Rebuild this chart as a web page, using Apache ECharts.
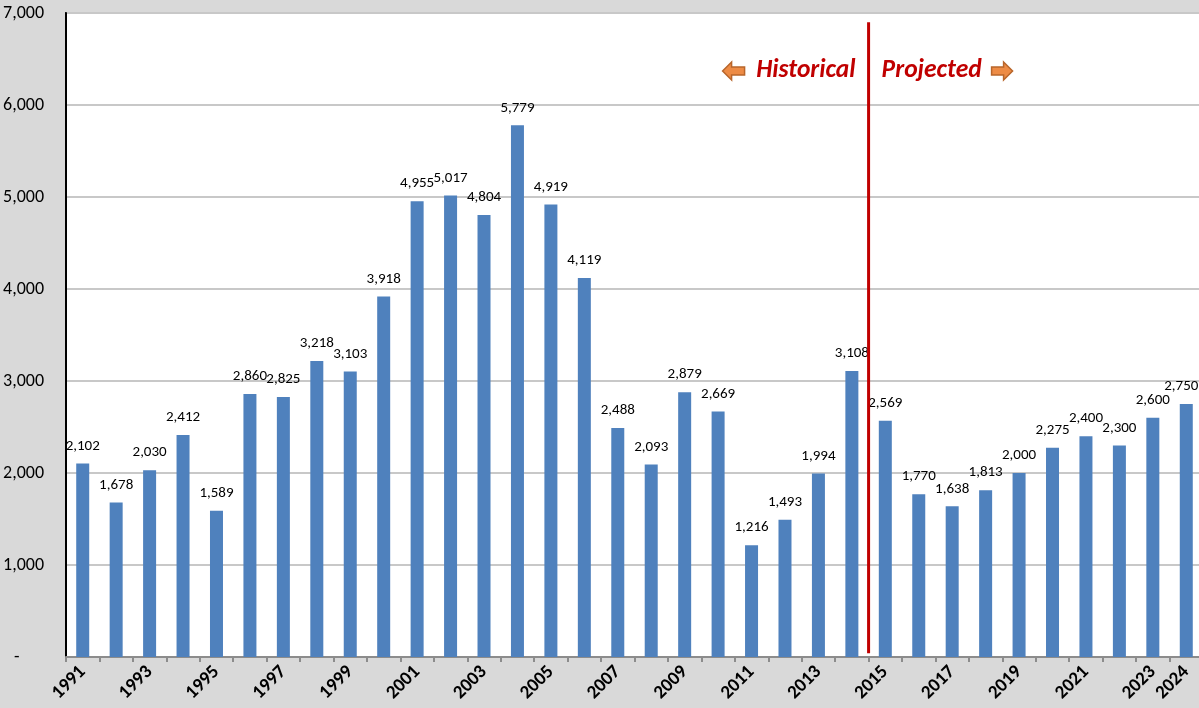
<!DOCTYPE html>
<html>
<head>
<meta charset="utf-8">
<script src="https://cdn.jsdelivr.net/npm/echarts@6/dist/echarts.min.js"></script>
<style>
html,body{margin:0;padding:0;background:#d9d9d9;}
#c{width:1199px;height:708px;}
</style>
</head>
<body>
<div id="c"></div>
<script>
const years = ['1991','1992','1993','1994','1995','1996','1997','1998','1999','2000','2001','2002','2003','2004','2005','2006','2007','2008','2009','2010','2011','2012','2013','2014','2015','2016','2017','2018','2019','2020','2021','2022','2023','2024'];
const values = [2102,1678,2030,2412,1589,2860,2825,3218,3103,3918,4955,5017,4804,5779,4919,4119,2488,2093,2879,2669,1216,1493,1994,3108,2569,1770,1638,1813,2000,2275,2400,2300,2600,2750];
const yTicks = [0,1000,2000,3000,4000,5000,6000,7000];
const lastHistorical = '2014';
const firstProjected = '2015';
const leftNote = 'Historical';
const rightNote = 'Projected';

const FONT = 'Carlito, Lato, "Liberation Sans", sans-serif';
const chart = echarts.init(document.getElementById('c'), null, {renderer:'canvas'});
const fmt = v => v.toString().replace(/\B(?=(\d{3})+(?!\d))/g, ',');
const seriesData = values.map((v,i) => i === values.length-1 ? {value:v, label:{offset:[-5,0]}} : v);

chart.setOption({
  backgroundColor:'#d9d9d9',
  animation:false,
  grid:{left:66, top:13, width:1137, height:644, containLabel:false, outerBoundsMode:'none',
        show:true, backgroundColor:'#ffffff', borderColor:'#595959', borderWidth:2},
  xAxis:{
    type:'category', data:years, boundaryGap:true,
    axisLine:{show:true, lineStyle:{color:'#8c8c8c', width:2}},
    axisTick:{show:true, interval:0, length:5, lineStyle:{color:'#8c8c8c', width:2}},
    axisLabel:{
      rotate:45, margin:12, color:'#000', fontWeight:'bold', fontSize:19, fontFamily:FONT,
      interval:(i)=> i%2===0 || i===years.length-1
    },
    splitLine:{show:false}
  },
  yAxis:{
    type:'value', min:yTicks[0], max:yTicks[yTicks.length-1], interval:1000,
    axisLine:{show:true, lineStyle:{color:'#000', width:2}},
    axisTick:{show:false},
    axisLabel:{
      color:'#000', fontSize:18, fontFamily:FONT, margin:22,
      formatter:v => v===0 ? '-      ' : fmt(v)
    },
    splitLine:{show:true, lineStyle:{color:'#c8c8c8', width:2}}
  },
  series:[{
    type:'bar', data:seriesData, barWidth:13,
    itemStyle:{color:'#4f81bd'},
    label:{show:true, position:'top', distance:10, color:'#000', fontSize:15, fontFamily:FONT, formatter:p=>fmt(p.value)}
  }]
});

function drawOverlay(){
  const i1 = years.indexOf(lastHistorical), i2 = years.indexOf(firstProjected);
  const x = (chart.convertToPixel({xAxisIndex:0}, years[i1]) + chart.convertToPixel({xAxisIndex:0}, years[i2]))/2;
  const yTop = chart.convertToPixel({yAxisIndex:0}, 6900);
  const yBot = chart.convertToPixel({yAxisIndex:0}, 40);
  const ty = 71;
  const arrowFill = '#ed8b45', arrowStroke = '#b8652a';
  chart.setOption({graphic:[
    {type:'line', z:50, shape:{x1:x, y1:yTop, x2:x, y2:yBot}, style:{stroke:'#c00000', lineWidth:3}},
    {type:'text', z:50, x:x-13, y:ty, style:{text:leftNote, align:'right', verticalAlign:'middle', fill:'#c00000', font:'italic bold 25.5px '+FONT}},
    {type:'text', z:50, x:x+13, y:ty, style:{text:rightNote, align:'left', verticalAlign:'middle', fill:'#c00000', font:'italic bold 25.5px '+FONT}},
    {type:'polygon', z:50, shape:{points:[[x-146,ty],[x-137,ty-9],[x-137,ty-4],[x-124,ty-4],[x-124,ty+4],[x-137,ty+4],[x-137,ty+9]]}, style:{fill:arrowFill, stroke:arrowStroke, lineWidth:1.5}},
    {type:'polygon', z:50, shape:{points:[[x+144,ty],[x+135,ty-9],[x+135,ty-4],[x+123,ty-4],[x+123,ty+4],[x+135,ty+4],[x+135,ty+9]]}, style:{fill:arrowFill, stroke:arrowStroke, lineWidth:1.5}}
  ]});
}
drawOverlay();
</script>
</body>
</html>
